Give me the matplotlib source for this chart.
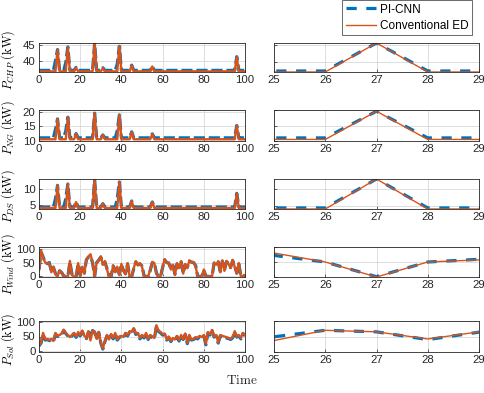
import matplotlib

matplotlib.use("Agg")
import matplotlib.pyplot as plt
from matplotlib.lines import Line2D

# time steps
time = list(range(101))

# CHP output (kW)
chp_picnn = [
    37.2, 37.2, 37.2, 37.2, 37.2, 37.2, 37.2, 37.2, 40.2, 43.6,
    37.2, 37.2, 37.2, 39.6, 44.4, 37.2, 37.2, 37.2, 38.1, 37.2,
    37.2, 37.2, 37.2, 37.2, 37.2, 37.2, 37.2, 45.5, 37.2, 37.2,
    37.2, 38.0, 37.2, 37.2, 37.2, 37.2, 37.2, 37.2, 39.2, 44.6,
    37.2, 37.2, 37.2, 37.2, 37.2, 38.8, 37.2, 37.2, 37.2, 37.2,
    37.2, 37.2, 37.2, 37.2, 37.2, 38.5, 37.2, 37.2, 37.2, 37.2,
    37.2, 37.2, 37.2, 37.2, 37.2, 37.2, 37.2, 37.2, 37.2, 37.2,
    37.2, 37.2, 37.2, 37.2, 37.2, 37.2, 37.2, 37.2, 37.2, 37.2,
    37.2, 37.2, 37.2, 37.2, 37.2, 37.2, 37.2, 37.2, 37.2, 37.2,
    37.2, 37.2, 37.2, 37.2, 37.2, 37.2, 41.4, 37.2, 37.2, 37.2,
    37.2,
]
chp_conv = [
    36.9, 36.9, 36.9, 36.9, 36.9, 36.9, 36.9, 36.9, 36.9, 43.5,
    36.9, 36.9, 36.9, 36.9, 44.3, 36.9, 36.9, 36.9, 38.0, 36.9,
    36.9, 36.9, 36.9, 36.9, 36.9, 36.9, 36.9, 45.5, 36.9, 36.9,
    36.9, 37.9, 36.9, 36.9, 36.9, 36.9, 36.9, 36.9, 36.9, 44.6,
    36.9, 36.9, 36.9, 36.9, 36.9, 38.7, 36.9, 36.9, 36.9, 36.9,
    36.9, 36.9, 36.9, 36.9, 36.9, 38.4, 36.9, 36.9, 36.9, 36.9,
    36.9, 36.9, 36.9, 36.9, 36.9, 36.9, 36.9, 36.9, 36.9, 36.9,
    36.9, 36.9, 36.9, 36.9, 36.9, 36.9, 36.9, 36.9, 36.9, 36.9,
    36.9, 36.9, 36.9, 36.9, 36.9, 36.9, 36.9, 36.9, 36.9, 36.9,
    36.9, 36.9, 36.9, 36.9, 36.9, 36.9, 41.3, 36.9, 36.9, 36.9,
    36.9,
]

# natural gas unit (kW)
ng_picnn = [
    11.0, 11.0, 11.0, 11.0, 11.0, 11.0, 11.0, 11.0, 14.0, 17.6,
    11.0, 11.0, 11.0, 13.5, 18.2, 11.0, 11.0, 11.0, 12.5, 11.0,
    11.0, 11.0, 11.0, 11.0, 11.0, 11.0, 11.0, 19.6, 11.0, 11.0,
    11.0, 12.0, 11.0, 11.0, 11.0, 11.0, 11.0, 11.0, 13.5, 19.0,
    11.0, 11.0, 11.0, 11.0, 11.0, 13.1, 11.0, 11.0, 11.0, 11.0,
    11.0, 11.0, 11.0, 11.0, 11.0, 12.4, 11.0, 11.0, 11.0, 11.0,
    11.0, 11.0, 11.0, 11.0, 11.0, 11.0, 11.0, 11.0, 11.0, 11.0,
    11.0, 11.0, 11.0, 11.0, 11.0, 11.0, 11.0, 11.0, 11.0, 11.0,
    11.0, 11.0, 11.0, 11.0, 11.0, 11.0, 11.0, 11.0, 11.0, 11.0,
    11.0, 11.0, 11.0, 11.0, 11.0, 11.0, 15.3, 11.0, 11.0, 11.0,
    11.0,
]
ng_conv = [
    10.5, 10.5, 10.5, 10.5, 10.5, 10.5, 10.5, 10.5, 10.5, 17.5,
    10.5, 10.5, 10.5, 10.5, 18.2, 10.5, 10.5, 10.5, 12.4, 10.5,
    10.5, 10.5, 10.5, 10.5, 10.5, 10.5, 10.5, 19.6, 10.5, 10.5,
    10.5, 12.0, 10.5, 10.5, 10.5, 10.5, 10.5, 10.5, 10.5, 19.0,
    10.5, 10.5, 10.5, 10.5, 10.5, 13.0, 10.5, 10.5, 10.5, 10.5,
    10.5, 10.5, 10.5, 10.5, 10.5, 12.3, 10.5, 10.5, 10.5, 10.5,
    10.5, 10.5, 10.5, 10.5, 10.5, 10.5, 10.5, 10.5, 10.5, 10.5,
    10.5, 10.5, 10.5, 10.5, 10.5, 10.5, 10.5, 10.5, 10.5, 10.5,
    10.5, 10.5, 10.5, 10.5, 10.5, 10.5, 10.5, 10.5, 10.5, 10.5,
    10.5, 10.5, 10.5, 10.5, 10.5, 10.5, 15.3, 10.5, 10.5, 10.5,
    10.5,
]

# diesel unit (kW)
ds_picnn = [
    4.5, 4.5, 4.5, 4.5, 4.5, 4.5, 4.5, 4.5, 7.0, 11.0,
    4.5, 4.5, 4.5, 7.0, 11.4, 4.5, 4.5, 4.5, 6.0, 4.5,
    4.5, 4.5, 4.5, 4.5, 4.5, 4.5, 4.5, 12.7, 4.5, 4.5,
    4.5, 5.5, 4.5, 4.5, 4.5, 4.5, 4.5, 4.5, 7.0, 12.0,
    4.5, 4.5, 4.5, 4.5, 4.5, 6.3, 4.5, 4.5, 4.5, 4.5,
    4.5, 4.5, 4.5, 4.5, 4.5, 6.0, 4.5, 4.5, 4.5, 4.5,
    4.5, 4.5, 4.5, 4.5, 4.5, 4.5, 4.5, 4.5, 4.5, 4.5,
    4.5, 4.5, 4.5, 4.5, 4.5, 4.5, 4.5, 4.5, 4.5, 4.5,
    4.5, 4.5, 4.5, 4.5, 4.5, 4.5, 4.5, 4.5, 4.5, 4.5,
    4.5, 4.5, 4.5, 4.5, 4.5, 4.5, 8.6, 4.5, 4.5, 4.5,
    4.5,
]
ds_conv = [
    4.2, 4.2, 4.2, 4.2, 4.2, 4.2, 4.2, 4.2, 4.2, 11.0,
    4.2, 4.2, 4.2, 4.2, 11.4, 4.2, 4.2, 4.2, 6.0, 4.2,
    4.2, 4.2, 4.2, 4.2, 4.2, 4.2, 4.2, 12.7, 4.2, 4.2,
    4.2, 5.5, 4.2, 4.2, 4.2, 4.2, 4.2, 4.2, 4.2, 12.0,
    4.2, 4.2, 4.2, 4.2, 4.2, 6.3, 4.2, 4.2, 4.2, 4.2,
    4.2, 4.2, 4.2, 4.2, 4.2, 6.0, 4.2, 4.2, 4.2, 4.2,
    4.2, 4.2, 4.2, 4.2, 4.2, 4.2, 4.2, 4.2, 4.2, 4.2,
    4.2, 4.2, 4.2, 4.2, 4.2, 4.2, 4.2, 4.2, 4.2, 4.2,
    4.2, 4.2, 4.2, 4.2, 4.2, 4.2, 4.2, 4.2, 4.2, 4.2,
    4.2, 4.2, 4.2, 4.2, 4.2, 4.2, 8.6, 4.2, 4.2, 4.2,
    4.2,
]

# wind (kW)
wind_picnn = [
    25, 88, 70, 52, 46, 50, 18, 33, 10, 2,
    20, 14, 2, 0, 0, 52, 8, 0, 0, 45,
    4, 32, 12, 60, 70, 72, 50, 1, 50, 59,
    70, 45, 52, 28, 2, 0, 38, 18, 33, 8,
    43, 22, 10, 45, 2, 0, 28, 52, 42, 45,
    38, 3, 0, 0, 22, 50, 50, 12, 0, 0,
    32, 60, 50, 48, 28, 40, 8, 45, 32, 52,
    12, 42, 33, 55, 52, 50, 40, 2, 0, 0,
    22, 2, 0, 0, 0, 48, 45, 52, 18, 55,
    22, 53, 47, 32, 57, 38, 12, 45, 2, 0,
    5,
]
wind_conv = [
    22, 92, 68, 50, 47, 48, 15, 35, 8, 0,
    22, 12, 0, 0, 0, 56, 5, 0, 0, 48,
    2, 35, 10, 62, 72, 80, 50, 0, 50, 57,
    72, 42, 55, 25, 0, 0, 40, 15, 35, 5,
    45, 20, 8, 48, 0, 0, 30, 55, 40, 48,
    35, 0, 0, 0, 25, 52, 48, 10, 0, 0,
    35, 62, 48, 50, 25, 42, 5, 48, 30, 55,
    10, 45, 30, 58, 50, 52, 38, 0, 0, 0,
    25, 0, 0, 0, 0, 50, 42, 55, 15, 58,
    20, 56, 45, 30, 60, 35, 10, 48, 0, 0,
    5,
]

# solar (kW)
solar_picnn = [
    18, 28, 58, 38, 40, 36, 40, 33, 58, 50,
    52, 57, 70, 60, 52, 45, 52, 60, 47, 62,
    52, 67, 50, 43, 65, 49, 70, 65, 40, 64,
    28, 8, 33, 52, 38, 55, 42, 60, 38, 47,
    50, 45, 60, 52, 65, 62, 75, 57, 60, 42,
    52, 45, 60, 40, 52, 47, 42, 85, 67, 62,
    55, 57, 38, 47, 33, 42, 38, 50, 35, 52,
    40, 57, 26, 52, 38, 40, 45, 42, 50, 45,
    52, 22, 62, 55, 70, 48, 52, 28, 52, 50,
    47, 45, 43, 40, 45, 65, 48, 52, 42, 60,
    52,
]
solar_conv = [
    20, 30, 62, 40, 42, 38, 42, 35, 62, 52,
    55, 60, 73, 62, 55, 48, 55, 62, 50, 65,
    55, 70, 52, 45, 68, 37, 70, 65, 42, 65,
    30, 10, 35, 55, 40, 58, 45, 62, 40, 50,
    52, 48, 62, 55, 68, 65, 78, 60, 62, 45,
    55, 48, 62, 42, 55, 50, 45, 88, 70, 65,
    58, 60, 40, 50, 35, 45, 40, 52, 38, 55,
    42, 60, 28, 55, 40, 42, 48, 45, 52, 48,
    55, 25, 65, 58, 72, 50, 55, 30, 55, 52,
    50, 48, 45, 42, 48, 68, 50, 55, 45, 62,
    55,
]

ylabels = [
    r"$P_{CHP}\ \mathrm{(kW)}$",
    r"$P_{NG}\ \mathrm{(kW)}$",
    r"$P_{DS}\ \mathrm{(kW)}$",
    r"$P_{Wind}\ \mathrm{(kW)}$",
    r"$P_{Sol}\ \mathrm{(kW)}$",
]
yticks = [[40, 45], [10, 15, 20], [5, 10], [0, 50, 100], [0, 50, 100]]
left_ylims = [(36.7, 45.6), (9.9, 20.7), (3.9, 12.9), (-2, 106), (-2, 102)]
series = [
    (chp_picnn, chp_conv),
    (ng_picnn, ng_conv),
    (ds_picnn, ds_conv),
    (wind_picnn, wind_conv),
    (solar_picnn, solar_conv),
]

BLUE = "#0072BD"
ORANGE = "#D95319"
AXC = "#262626"

plt.rcParams["mathtext.fontset"] = "cm"
plt.rcParams["font.family"] = ["Liberation Sans", "DejaVu Sans"]
plt.rcParams["font.size"] = 8

W, H = 485, 393
rows_px = [(43, 72), (110, 141), (179, 209), (247, 277), (321, 352)]
left_px = (39, 245)
right_px = (274, 479)

fig = plt.figure(figsize=(W / 100, H / 100), dpi=100)


def style_axes(ax):
    for s in ax.spines.values():
        s.set_color(AXC)
        s.set_linewidth(0.6)
    ax.tick_params(direction="in", length=2.5, width=0.5, colors=AXC,
                   labelsize=8.2, pad=2.5)
    ax.grid(True, color="#d9d9d9", linewidth=0.6)
    ax.set_axisbelow(True)


for i, (top, bot) in enumerate(rows_px):
    y0 = 1 - bot / H
    h = (bot - top) / H
    blue, orange = series[i]

    ax = fig.add_axes([left_px[0] / W, y0, (left_px[1] - left_px[0]) / W, h])
    ax.plot(time, blue, color=BLUE, lw=2.3, dashes=(3.5, 1.2))
    ax.plot(time, orange, color=ORANGE, lw=1.7)
    ax.set_xlim(0, 100)
    ax.set_xticks([0, 20, 40, 60, 80, 100])
    ax.set_ylim(*left_ylims[i])
    ax.set_yticks(yticks[i])
    ax.set_ylabel(ylabels[i], fontsize=8.8)
    ax.yaxis.set_label_coords(-0.107, 0.42)
    style_axes(ax)

    axr = fig.add_axes([right_px[0] / W, y0, (right_px[1] - right_px[0]) / W, h])
    axr.plot(time, blue, color=BLUE, lw=2.3, dashes=(3.2, 3.0))
    axr.plot(time, orange, color=ORANGE, lw=1.0)
    axr.set_xlim(25, 29)
    axr.set_xticks([25, 26, 27, 28, 29])
    win = blue[25:30] + orange[25:30]
    axr.set_ylim(min(win), max(win))
    axr.set_yticks(yticks[i])
    axr.set_yticklabels([])
    axr.tick_params(axis="y", length=0)
    style_axes(axr)

fig.text(242 / W, 1 - 381 / H, r"$\mathrm{Time}$", ha="center", va="center",
         fontsize=9.5, color=AXC)

handles = [
    Line2D([], [], color=BLUE, lw=2.3, dashes=(3.2, 3.0)),
    Line2D([], [], color=ORANGE, lw=1.0),
]
leg = fig.legend(handles, ["PI-CNN", "Conventional ED"], loc="upper right",
                 bbox_to_anchor=(472 / W, 1.0), fontsize=8.5, frameon=True,
                 fancybox=False, handlelength=2.6, handletextpad=0.3,
                 borderpad=0.3, labelspacing=0.35, borderaxespad=0.0)
leg.get_frame().set_edgecolor(AXC)
leg.get_frame().set_linewidth(0.6)
for t in leg.get_texts():
    t.set_color("#000000")

fig.savefig("out.png", dpi=100)
